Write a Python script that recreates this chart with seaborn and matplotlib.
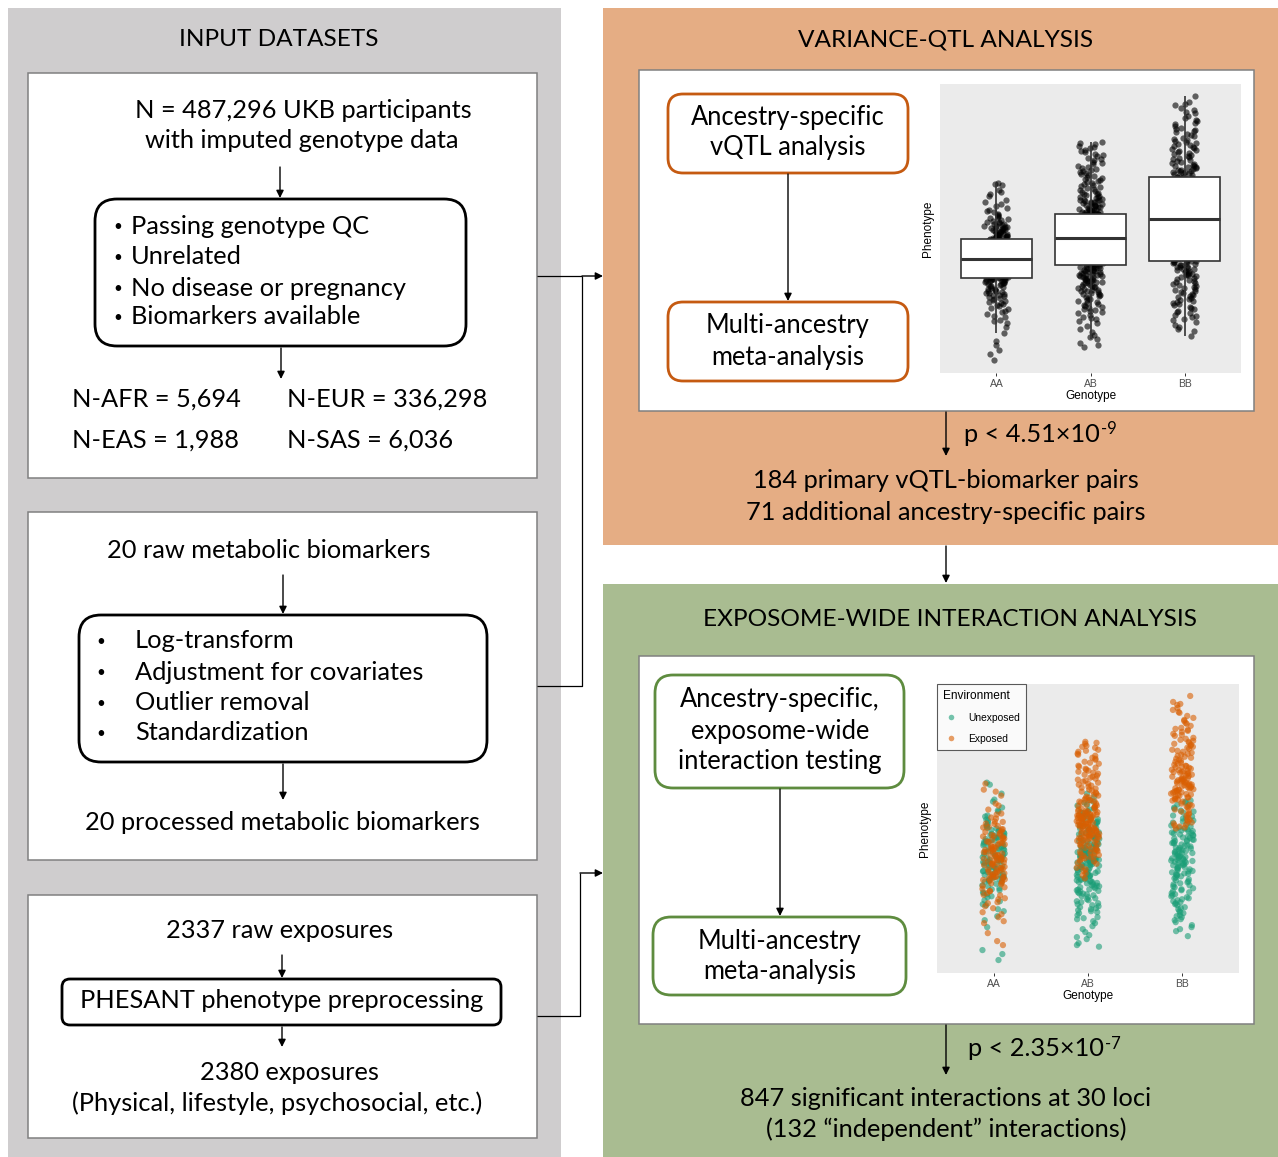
import numpy as np
import pandas as pd
import matplotlib
matplotlib.use("Agg")
import matplotlib.pyplot as plt
from matplotlib.patches import Rectangle, FancyBboxPatch
from matplotlib.lines import Line2D
import seaborn as sns

# ---------------------------------------------------------------------------
# Illustrative genotype / phenotype data (arbitrary phenotype units)
# ---------------------------------------------------------------------------
genotypes = ["AA", "AB", "BB"]
environments = ["Unexposed", "Exposed"]
env_colors = ["#1B9E77", "#D95F02"]

aa_unexposed = [3.85, 3.75, 3.3, 3.0, 2.6, 2.4, 2.2, 2.0, 1.85, 1.7, 1.55, 1.45, 1.3, 1.2, 1.1,
                1.08, 1.12, 1.18, 1.22, 1.28, 1.35, 1.42, 1.48, 1.58, 1.65, 1.75, 1.95, 2.15, 2.45, 2.9,
                1.02, 0.95, 0.85, 0.78, 0.7, 0.62, 0.55, 0.45, 0.38, 0.3, 0.24, 0.17, 0.11, 0.06, 0.02,
                0.98, 0.92, 0.87, 0.8, 0.72, 0.67, 0.6, 0.52, 0.47, 0.4, 0.33, 0.26, 0.19, 0.13, 0.05,
                0.0, -0.06, -0.12, -0.18, -0.25, -0.31, -0.38, -0.45, -0.52, -0.58, -0.65, -0.72, -0.78,
                -0.85, -0.91,
                -0.02, -0.08, -0.14, -0.2, -0.27, -0.33, -0.4, -0.47, -0.54, -0.6, -0.67, -0.74, -0.8,
                -0.87, -0.9,
                -0.95, -1.05, -1.15, -1.3, -1.5, -1.7, -1.9, -2.1, -2.3, -2.6, -3.05, -3.4, -4.55,
                -4.75, -5.05,
                -0.98, -1.02, -1.08, -1.12, -1.22, -1.35, -1.45, -1.55, -1.65, -1.75, -1.85, -2.05,
                -2.25, -2.5, -2.85]
aa_exposed = [3.8, 3.5, 3.2, 2.8, 2.5, 2.3, 2.1, 1.9, 1.8, 1.6, 1.5, 1.4, 1.25, 1.15, 1.05,
              1.07, 1.13, 1.17, 1.23, 1.32, 1.38, 1.52, 1.62, 1.68, 1.78, 1.88, 2.05, 2.25, 2.7, 3.4,
              1.0, 0.9, 0.82, 0.75, 0.65, 0.58, 0.5, 0.42, 0.35, 0.27, 0.2, 0.14, 0.08, 0.04, 0.0,
              0.97, 0.88, 0.83, 0.76, 0.68, 0.63, 0.56, 0.48, 0.43, 0.36, 0.29, 0.22, 0.15, 0.09, 0.03,
              -0.03, -0.09, -0.15, -0.21, -0.28, -0.35, -0.42, -0.48, -0.55, -0.62, -0.68, -0.75,
              -0.82, -0.88, -0.93,
              -0.04, -0.11, -0.17, -0.23, -0.3, -0.37, -0.43, -0.5, -0.57, -0.64, -0.7, -0.77, -0.84,
              -0.89, -0.92,
              -1.0, -1.1, -1.2, -1.4, -1.6, -1.8, -2.0, -2.2, -2.45, -2.75, -2.9, -3.2, -3.7, -4.1,
              -4.3,
              -0.97, -1.03, -1.07, -1.18, -1.25, -1.33, -1.48, -1.58, -1.68, -1.78, -1.95, -2.15,
              -2.35, -2.65, -3.1]

ab_unexposed = [3.15, 2.98, 2.85, 2.75, 2.55, 2.42, 2.33, 2.28,
                3.3, 2.88, 2.7, 2.5, 2.38, 2.3,
                1.06, 1.1, 1.18, 1.26, 1.33, 1.38, 1.46, 1.54, 1.62, 1.7, 1.78, 1.86, 1.94, 2.02, 2.06,
                2.12, 2.18, 2.24,
                1.09, 1.14, 1.22, 1.29, 1.36, 1.43, 1.51, 1.59, 1.66, 1.74, 1.82, 1.9, 2.0, 2.09,
                -0.3, -0.25, -0.2, -0.15, -0.12, -0.08, -0.04, 0.0, 0.04, 0.08, 0.12, 0.16, 0.2, 0.24,
                0.28, 0.32, 0.36, 0.4, 0.44, 0.48, 0.52, 0.56, 0.6, 0.64, 0.68, 0.72, 0.76, 0.8, 0.85,
                0.9, 0.95, 1.0,
                -0.28, -0.23, -0.17, -0.13, -0.1, -0.06, -0.02, 0.02, 0.06, 0.1, 0.14, 0.18, 0.22,
                0.26, 0.3, 0.34, 0.38, 0.42, 0.46, 0.5, 0.58, 0.66, 0.74, 0.82, 0.92, 1.03,
                -0.32, -0.4, -0.45, -0.55, -0.6, -0.65, -0.75, -0.8, -0.85, -0.9, -1.0, -1.05, -1.1,
                -1.15, -1.2, -1.3, -1.35, -1.4, -1.5, -1.55, -1.6, -1.7, -1.75, -1.8, -1.9, -2.0, -2.1,
                -2.2, -2.3, -2.4, -2.5, -2.6, -2.7, -2.8, -2.95, -3.1, -3.2, -3.35, -3.5, -3.65, -3.8,
                -3.9, -4.0, -4.2, -4.3, -4.38,
                -0.34, -0.38, -0.43, -0.48, -0.52, -0.57, -0.62, -0.68, -0.72, -0.78, -0.83, -0.88,
                -0.93, -0.98, -1.03, -1.08, -1.13, -1.18, -1.25, -1.32, -1.38, -1.45, -1.52, -1.58,
                -1.65, -1.72, -1.85, -1.95, -2.05, -2.15, -2.25, -2.35, -2.45, -2.55, -2.65, -2.9,
                -3.0]
ab_exposed = [5.9, 5.8, 5.7, 5.6, 5.5, 5.4, 5.3, 5.2, 5.1, 5.0, 4.9, 4.8, 4.7, 4.6, 4.5, 4.4, 4.3,
              4.2, 4.1, 4.0, 3.9, 3.8, 3.7, 3.6, 3.5, 3.4, 3.3, 3.2, 3.1, 3.0, 2.95, 2.9, 2.8, 2.7,
              2.65, 2.6, 2.5, 2.45, 2.4, 2.35, 2.3, 2.27,
              5.85, 5.65, 5.45, 5.25, 5.05, 4.85, 4.65, 4.55, 4.45, 4.35, 4.25, 4.15, 4.05, 3.95,
              3.85, 3.75, 3.65, 3.55, 3.45, 3.35, 3.25, 3.15, 3.05, 2.98, 2.92, 2.85, 2.75, 2.68,
              2.62, 2.55, 2.48, 2.42, 2.37, 2.32,
              1.08, 1.12, 1.15, 1.2, 1.24, 1.28, 1.3, 1.35, 1.4, 1.44, 1.48, 1.52, 1.56, 1.6, 1.64,
              1.68, 1.72, 1.76, 1.8, 1.84, 1.88, 1.92, 1.96, 2.0, 2.04, 2.08, 2.1, 2.14, 2.17, 2.2,
              2.22, 2.25,
              1.07, 1.11, 1.16, 1.21, 1.26, 1.31, 1.37, 1.42, 1.47, 1.53, 1.58, 1.63, 1.67, 1.73,
              1.78, 1.83, 1.87, 1.93, 1.98, 2.03, 2.07, 2.11, 2.15, 2.19, 2.21, 2.23,
              -0.22, -0.1, 0.02, 0.1, 0.18, 0.26, 0.34, 0.42, 0.5, 0.58, 0.66, 0.74, 0.82, 0.88, 0.93,
              0.98, 1.02, 1.05,
              -0.18, -0.05, 0.06, 0.14, 0.22, 0.3, 0.38, 0.46, 0.54, 0.62, 0.7, 0.78, 0.86, 0.96,
              -0.36, -0.5, -0.7, -0.95, -0.42, -0.58, -0.8]

bb_unexposed = [2.95, 2.85, 2.75, 2.55, 2.45, 2.35, 2.15, 2.05,
                2.9, 2.7, 2.6, 2.4, 2.2, 2.1,
                1.95, 1.85, 1.7, 1.55, 1.5, 1.45, 1.4, 1.35, 1.3, 1.25, 1.2, 1.1, 1.05, 1.0, 0.95,
                0.9, 0.85, 0.8, 0.7, 0.65, 0.6, 0.55, 0.5, 0.45, 0.4, 0.35, 0.3, 0.25, 0.2, 0.15, 0.1,
                0.05, 0.0, -0.08,
                1.9, 1.8, 1.65, 1.6, 1.48, 1.42, 1.32, 1.22, 1.15, 1.08, 0.98, 0.92, 0.82, 0.75, 0.68,
                0.58, 0.48, 0.42, 0.32, 0.28, 0.18, 0.12, 0.08, 0.02, -0.03, -0.06,
                -0.1, -0.15, -0.2, -0.3, -0.35, -0.4, -0.5, -0.55, -0.6, -0.7, -0.75, -0.8, -0.9, -1.0,
                -1.05, -1.1, -1.2, -1.3, -1.4, -1.5, -1.6, -1.7, -1.8, -1.9, -2.0, -2.1, -2.2, -2.3,
                -2.4, -2.5, -2.6, -2.7, -2.8, -2.9, -3.0, -3.15, -3.3, -3.4, -3.6, -3.85,
                -0.12, -0.18, -0.25, -0.28, -0.38, -0.45, -0.48, -0.58, -0.65, -0.72, -0.78, -0.85,
                -0.95, -1.15, -1.25, -1.35, -1.45, -1.55, -1.65, -1.75, -1.85, -1.95, -2.05, -2.15,
                -2.25, -2.45, -2.65, -2.85, -3.05, -3.5]
bb_exposed = [8.2, 7.9, 7.75, 7.6, 7.5, 7.35, 7.2, 7.1, 6.95, 6.8, 6.7, 6.6, 6.5, 6.4, 6.3, 6.2,
              6.1, 6.0, 5.9, 5.8, 5.7, 5.6, 5.5, 5.4, 5.3, 5.2, 5.1, 5.0, 4.9, 4.8, 4.7, 4.65, 4.6,
              4.5, 4.45, 4.4, 4.35, 4.3, 4.2, 4.15,
              7.8, 7.4, 7.0, 6.85, 6.55, 6.45, 6.25, 6.05, 5.95, 5.85, 5.75, 5.65, 5.55, 5.45, 5.35,
              5.25, 5.15, 5.05, 4.95, 4.85, 4.75, 4.68, 4.62, 4.55, 4.48, 4.42, 4.38, 4.32, 4.25,
              4.18,
              4.1, 4.05, 4.0, 3.95, 3.9, 3.85, 3.8, 3.75, 3.7, 3.65, 3.6, 3.55, 3.5, 3.45, 3.4, 3.35,
              3.3, 3.25, 3.2, 3.15, 3.1, 3.05, 3.0, 2.9, 2.8, 2.7, 2.6, 2.5, 2.4, 2.3, 2.2, 2.1,
              4.08, 4.02, 3.97, 3.92, 3.87, 3.82, 3.77, 3.72, 3.67, 3.62, 3.57, 3.52, 3.47, 3.42,
              3.37, 3.28, 3.22, 3.12, 3.02, 2.95, 2.75, 2.65, 2.45, 2.25,
              2.0, 1.9, 1.8, 1.75, 1.65, 1.6, 1.98, 1.85, 1.7, 1.55]

groups = {
    "AA": (aa_unexposed, aa_exposed),
    "AB": (ab_unexposed, ab_exposed),
    "BB": (bb_unexposed, bb_exposed),
}
rows = []
for g in genotypes:
    unexp, exp = groups[g]
    rows += [(g, v, "Unexposed") for v in unexp]
    rows += [(g, v, "Exposed") for v in exp]
df = pd.DataFrame(rows, columns=["Genotype", "Phenotype", "Environment"])

# ---------------------------------------------------------------------------
# Canvas in pixel coordinates
# ---------------------------------------------------------------------------
plt.rcParams["font.family"] = ["Lato", "DejaVu Sans"]

W, H = 1278, 1157
fig = plt.figure(figsize=(W / 100, H / 100), dpi=100)
fig.patch.set_facecolor("white")
ax = fig.add_axes([0, 0, 1, 1])
ax.set_xlim(0, W)
ax.set_ylim(H, 0)
ax.axis("off")

BODY = 18.3
BOXTXT = 18.4
TITLE = 17.6
BULLET = 11
GRAY_PANEL = "#CFCDCE"
ORANGE_PANEL = "#E5AD84"
GREEN_PANEL = "#A9BC91"
ORANGE_EDGE = "#C55A11"
GREEN_EDGE = "#5E8C3F"
BOX_EDGE = "#808080"


def rect(x0, y0, x1, y1, fc, ec="none", lw=0.0):
    ax.add_patch(Rectangle((x0, y0), x1 - x0, y1 - y0, facecolor=fc,
                           edgecolor=ec, linewidth=lw))


def rbox(x0, y0, x1, y1, ec, r, lw=2.0):
    ax.add_patch(FancyBboxPatch((x0 + r, y0 + r), x1 - x0 - 2 * r, y1 - y0 - 2 * r,
                                boxstyle=f"round,pad={r}", facecolor="white",
                                edgecolor=ec, linewidth=lw))


def arrow(x0, y0, x1, y1):
    ax.annotate("", xy=(x1, y1), xytext=(x0, y0),
                arrowprops=dict(arrowstyle="-|>", color="black", lw=1.0,
                                mutation_scale=11, shrinkA=0, shrinkB=0))


def line(xs, ys):
    ax.plot(xs, ys, color="black", lw=0.9, solid_capstyle="butt")


def txt(x, y, s, size=BODY, ha="center"):
    return ax.text(x, y, s, ha=ha, va="center", fontsize=size, color="black")


def pvalue(x, y, base, exponent):
    t = txt(x, y, base, ha="left")
    ax.annotate(exponent, xy=(1.0, 1.0), xycoords=t, xytext=(0.5, 1), textcoords="offset points",
                ha="left", va="top", fontsize=12, color="black")


# panels
rect(8, 8, 561, 1157, GRAY_PANEL)
rect(603, 8, 1278, 545, ORANGE_PANEL)
rect(603, 584, 1278, 1157, GREEN_PANEL)

# left column boxes
rect(28, 73, 537, 478, "white", BOX_EDGE, 1.1)
rect(28, 512, 537, 860, "white", BOX_EDGE, 1.1)
rect(28, 895, 537, 1138, "white", BOX_EDGE, 1.1)

txt(279, 40, "INPUT DATASETS", TITLE)
txt(303, 110, "N = 487,296 UKB participants")
txt(302, 140, "with imputed genotype data")
arrow(280, 167, 280, 198)
rbox(95, 199, 466, 346, "black", 22, 2.0)
for yy, s in zip([226, 257, 288, 317],
                 ["Passing genotype QC", "Unrelated", "No disease or pregnancy",
                  "Biomarkers available"]):
    txt(118, yy + 1, "•", BULLET)
    txt(131, yy, s, ha="left")
arrow(281, 348, 281, 379)
txt(72, 399, "N-AFR = 5,694", ha="left")
txt(287, 399, "N-EUR = 336,298", ha="left")
txt(72, 440, "N-EAS = 1,988", ha="left")
txt(287, 440, "N-SAS = 6,036", ha="left")

txt(269, 551, "20 raw metabolic biomarkers")
arrow(283, 575, 283, 614)
rbox(79, 615, 487, 762, "black", 22, 2.0)
for yy, s in zip([641, 672, 703, 733],
                 ["Log-transform", "Adjustment for covariates", "Outlier removal",
                  "Standardization"]):
    txt(101, yy + 1, "•", BULLET)
    txt(135, yy, s, ha="left")
arrow(283, 764, 283, 800)
txt(282, 823, "20 processed metabolic biomarkers")

txt(280, 931, "2337 raw exposures")
arrow(282, 955, 282, 978)
rbox(62, 979, 501, 1025, "black", 8, 2.0)
txt(282, 1001, "PHESANT phenotype preprocessing")
arrow(282, 1027, 282, 1047)
txt(289, 1072, "2380 exposures")
txt(277, 1103, "(Physical, lifestyle, psychosocial, etc.)")

# connectors from the input column
line([537, 582], [276, 276])
arrow(582, 276, 603, 276)
line([582, 582, 537], [276, 686, 686])
line([537, 580, 580], [1016, 1016, 873])
arrow(580, 873, 603, 873)

# variance-QTL panel
txt(946, 40, "VARIANCE-QTL ANALYSIS", TITLE)
rect(639, 70, 1254, 411, "white", BOX_EDGE, 1.1)
rbox(668, 94, 908, 173, ORANGE_EDGE, 15, 2.0)
rbox(668, 302, 908, 381, ORANGE_EDGE, 15, 2.0)
txt(788, 117, "Ancestry-specific", BOXTXT)
txt(788, 148, "vQTL analysis", BOXTXT)
txt(788, 326, "Multi-ancestry", BOXTXT)
txt(788, 357, "meta-analysis", BOXTXT)
arrow(788, 174, 788, 301)
arrow(946, 412, 946, 456)
pvalue(964, 434, "p < 4.51×10", "-9")
txt(946, 481, "184 primary vQTL-biomarker pairs")
txt(946, 512, "71 additional ancestry-specific pairs")
arrow(946, 546, 946, 583)

# exposome-wide interaction panel
txt(950, 620, "EXPOSOME-WIDE INTERACTION ANALYSIS", TITLE)
rect(639, 656, 1254, 1024, "white", BOX_EDGE, 1.1)
rbox(655, 675, 904, 788, GREEN_EDGE, 18, 2.0)
rbox(653, 917, 906, 995, GREEN_EDGE, 18, 2.0)
txt(780, 700, "Ancestry-specific,", BOXTXT)
txt(780, 731, "exposome-wide", BOXTXT)
txt(780, 762, "interaction testing", BOXTXT)
txt(780, 941, "Multi-ancestry", BOXTXT)
txt(780, 972, "meta-analysis", BOXTXT)
arrow(780, 789, 780, 916)
arrow(946, 1025, 946, 1075)
pvalue(968, 1049, "p < 2.35×10", "-7")
txt(946, 1098, "847 significant interactions at 30 loci")
txt(946, 1129, "(132 “independent” interactions)")


# ---------------------------------------------------------------------------
# Embedded genotype plots
# ---------------------------------------------------------------------------
def inset(x0, y0, x1, y1):
    return fig.add_axes([x0 / W, 1 - y1 / H, (x1 - x0) / W, (y1 - y0) / H])


def style_panel(a):
    a.set_facecolor("#EBEBEB")
    for s in a.spines.values():
        s.set_visible(False)
    a.set_xlim(-0.6, 2.6)
    a.set_ylim(-5.7, 8.8)
    a.set_yticks([])
    a.tick_params(axis="x", length=2.5, width=0.7, color="#333333",
                  labelsize=7.5, labelcolor="#4D4D4D", pad=1.5)
    for t in a.get_xticklabels():
        t.set_fontfamily("Liberation Sans")
        t.set_fontsize(7.5)
    a.set_xlabel("Genotype", fontsize=8.5, labelpad=1, family="Liberation Sans")
    a.set_ylabel("Phenotype", fontsize=8.5, labelpad=4, family="Liberation Sans")


ax1 = inset(940, 84, 1241, 373)
sns.stripplot(data=df, x="Genotype", y="Phenotype", order=genotypes, color="black",
              alpha=0.6, size=4.5, jitter=0.13, linewidth=0, ax=ax1, zorder=1)
sns.boxplot(data=df, x="Genotype", y="Phenotype", order=genotypes, width=0.75,
            whis=1.5, showfliers=False, showcaps=False, color="white", saturation=1,
            linecolor="#333333", linewidth=1.2, ax=ax1,
            medianprops=dict(linewidth=2.2, color="#333333"))
style_panel(ax1)

ax2 = inset(937, 684, 1239, 973)
sns.stripplot(data=df, x="Genotype", y="Phenotype", hue="Environment", order=genotypes,
              hue_order=environments, palette=env_colors, alpha=0.6, size=4.5,
              jitter=0.12, linewidth=0, ax=ax2)
style_panel(ax2)
handles = [Line2D([], [], marker="o", linestyle="none", markersize=4, alpha=0.6,
                  markerfacecolor=c, markeredgewidth=0) for c in env_colors]
leg = ax2.legend(handles, environments, title="Environment", loc="upper left",
                 borderaxespad=0, frameon=True, fancybox=False, edgecolor="#333333",
                 prop=dict(family="Liberation Sans", size=7.4),
                 title_fontproperties=dict(family="Liberation Sans", size=8.6),
                 handletextpad=0.8, labelspacing=1.05, borderpad=0.6, handlelength=1.6)
leg.get_frame().set_linewidth(0.8)
leg._legend_box.align = "left"

fig.savefig("out.png", dpi=100, facecolor="white")
